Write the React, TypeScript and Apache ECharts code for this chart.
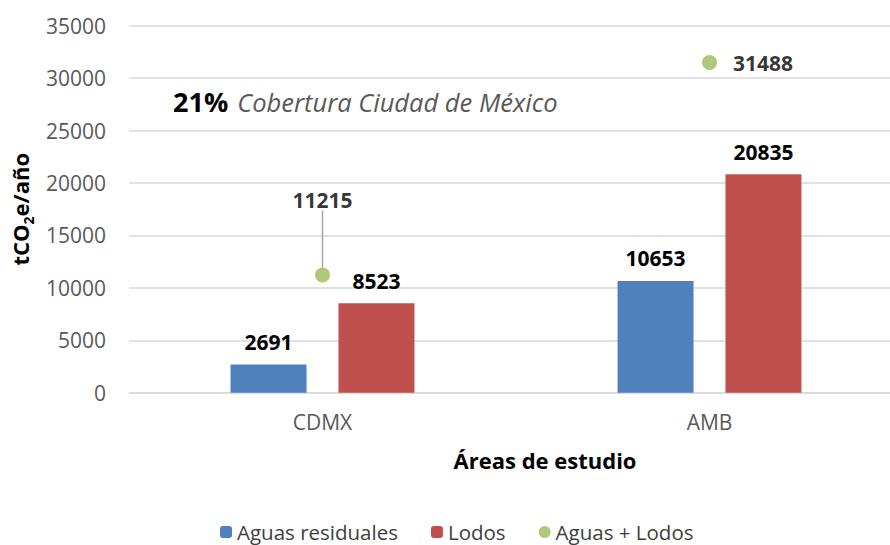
import React, { useEffect, useRef } from "react";
import * as echarts from "echarts";

const categories = ["CDMX", "AMB"];
const aguasResiduales = [2691, 10653];
const lodos = [8523, 20835];
const aguasLodos = [11215, 31488];
const seriesNames = ["Aguas residuales", "Lodos", "Aguas + Lodos"];
const annotationPct = "21%";
const annotationText = "Cobertura Ciudad de México";

const FONT = "'Open Sans', 'Noto Sans', sans-serif";

export default function App() {
  const ref = useRef<HTMLDivElement>(null);
  useEffect(() => {
    if (!ref.current) return;
    const chart = echarts.init(ref.current, undefined, { renderer: "svg" });
    const labelBold = {
      show: true,
      position: "top",
      distance: 12,
      fontFamily: FONT,
      fontWeight: "bold",
      fontSize: 21,
      color: "#000000",
    };
    chart.setOption({
      animation: false,
      backgroundColor: "#ffffff",
      textStyle: { fontFamily: FONT },
      grid: { left: 129, right: 2, top: 25.7, bottom: 152.3 },
      legend: {
        data: seriesNames,
        left: 220,
        top: 521,
        padding: 0,
        itemWidth: 12,
        itemHeight: 12,
        itemGap: 33,
        textStyle: { fontFamily: FONT, fontSize: 20.5, color: "#404040", lineHeight: 22 },
      },
      xAxis: {
        type: "category",
        data: categories,
        axisLine: { show: true, lineStyle: { color: "#d9d9d9", width: 1.5 } },
        axisTick: { show: false },
        axisLabel: { fontFamily: FONT, fontSize: 21, color: "#595959", margin: 19 },
        name: "Áreas de estudio",
        nameLocation: "middle",
        nameGap: 56,
        nameTextStyle: {
          fontFamily: FONT,
          fontSize: 22,
          fontWeight: "bold",
          color: "#000000",
          padding: [0, 0, 0, 58],
        },
      },
      yAxis: {
        type: "value",
        min: 0,
        max: 35000,
        interval: 5000,
        axisLine: { show: false },
        axisTick: { show: false },
        splitLine: { lineStyle: { color: "#d9d9d9", width: 1.5 } },
        axisLabel: {
          fontFamily: FONT,
          fontSize: 21,
          color: "#595959",
          margin: 23,
          formatter: (v: number) => String(v),
        },
        name: "{a|tCO}{s|2}{a|e/año}",
        nameLocation: "middle",
        nameGap: 90,
        nameRotate: 90,
        nameTextStyle: {
          rich: {
            a: { fontFamily: FONT, fontSize: 22, fontWeight: "bold", color: "#000000", lineHeight: 30, verticalAlign: "middle" },
            s: { fontFamily: FONT, fontSize: 14, fontWeight: "bold", color: "#000000", lineHeight: 30, verticalAlign: "bottom" },
          },
        },
      },
      series: [
        {
          name: seriesNames[0],
          type: "bar",
          data: aguasResiduales,
          barWidth: 76,
          barGap: "42%",
          itemStyle: { color: "#4f81bd" },
          label: labelBold,
        },
        {
          name: seriesNames[1],
          type: "bar",
          data: lodos,
          barWidth: 76,
          barGap: "42%",
          itemStyle: { color: "#c0504d" },
          label: labelBold,
        },
        {
          name: seriesNames[2],
          type: "scatter",
          symbol: "circle",
          symbolSize: 15,
          itemStyle: { color: "#9bbb59" },
          data: aguasLodos.map((v, i) =>
            i === 0
              ? {
                  value: v,
                  label: { ...labelBold, position: "top", distance: 5 },
                  labelLine: { show: true, lineStyle: { color: "#a6a6a6", width: 1.5 } },
                }
              : { value: v, label: { ...labelBold, position: "right", distance: 16 } }
          ),
          label: labelBold,
          labelLayout: (params: any) => (params.dataIndex === 0 ? { dy: -52 } : {}),
        },
      ],
      graphic: [
        {
          type: "text",
          left: 173,
          top: 88,
          style: {
            text: `{b|${annotationPct}}{i|${annotationText}}`,
            rich: {
              b: { fontFamily: FONT, fontSize: 27, fontWeight: "bold", fill: "#000000" },
              i: { fontFamily: FONT, fontSize: 25.5, fontStyle: "italic", fill: "#595959", padding: [0, 0, 0, 9] },
            },
          },
        },
      ],
    });
    return () => chart.dispose();
  }, []);
  return (
    <div style={{ position: "fixed", left: 0, top: 0, width: 890, height: 545, overflow: "hidden", background: "#fff" }}>
      <div ref={ref} style={{ width: 905, height: 545 }} />
    </div>
  );
}
